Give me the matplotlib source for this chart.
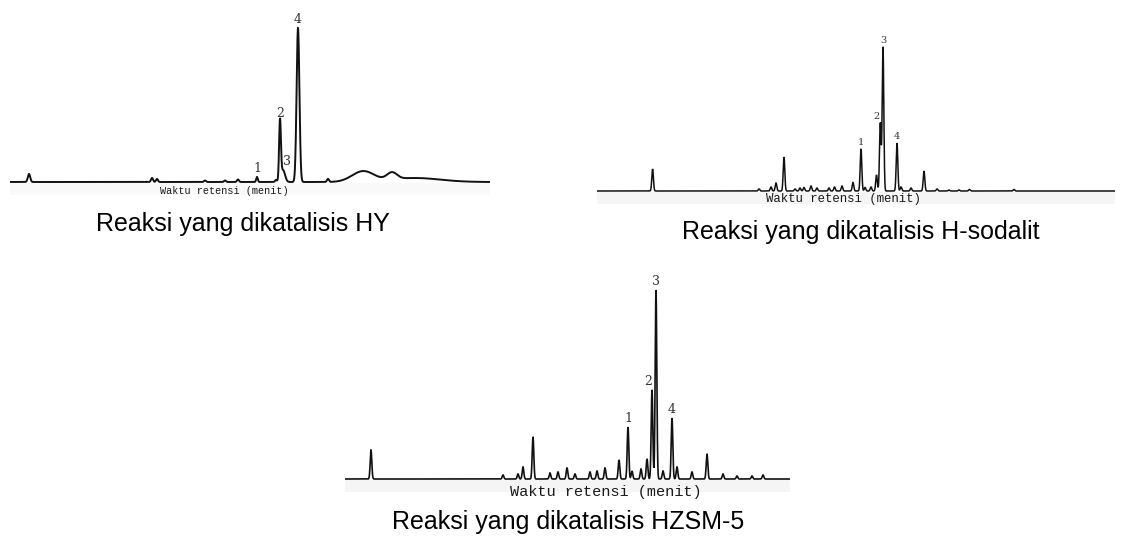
import numpy as np
import matplotlib
matplotlib.use("Agg")
import matplotlib.pyplot as plt

# ===============================
# Peak tables
# retention time (arbitrary min), height (signal units), peak width (sigma)
# ===============================
hy_rt = [1.9, 14.2, 14.7, 19.5, 21.5, 22.8, 24.7, 26.6, 27.0, 27.3, 28.8, 31.8,
         35.3, 38.2, 40.5]
hy_height = [8, 4, 3, 1.5, 1.5, 2.5, 5, 2, 60, 12, 154, 3,
             10.5, 7, 4]
hy_width = [0.12, 0.1, 0.1, 0.1, 0.1, 0.1, 0.08, 0.1, 0.09, 0.2, 0.14, 0.1,
            1.1, 0.5, 2.5]
hy_labels = ["1", "2", "3", "4"]
hy_label_rt = [24.7, 27.0, 27.3, 28.8]
hy_label_h = [5, 60, 12, 154]

hs_rt = [5.56, 16.2, 17.4, 17.9, 18.7, 19.8, 20.3, 20.7, 21.4, 22.0, 23.2, 23.75,
         24.5, 25.6, 26.4, 26.8, 27.4, 27.95, 28.33, 28.6, 30.0, 30.4, 31.4, 32.7,
         34.0, 35.2, 36.2, 37.25, 41.7]
hs_height = [22, 2, 4, 8, 34, 2, 3, 3.5, 5, 3, 3, 4,
             5, 8.5, 42, 3.5, 4, 16, 68, 144, 48, 4, 3, 20,
             2, 1, 1, 1.5, 1.5]
hs_labels = ["1", "2", "3", "4"]
hs_label_rt = [26.4, 28.33, 28.6, 30.0]
hs_label_h = [42, 68, 144, 48]

hz_rt = [2.6, 15.8, 17.3, 17.8, 18.8, 20.5, 21.3, 22.2, 23.0, 24.5, 25.2, 26.0,
         27.4, 28.3, 28.7, 29.6, 30.2, 30.7, 31.1, 31.8, 32.7, 33.2, 34.7, 36.2,
         37.8, 39.2, 40.7, 41.8]
hz_height = [29, 4, 5, 12, 42, 6, 7, 11, 5, 7, 8, 11,
             19, 52, 8, 10, 20, 89, 189, 8, 61, 12, 7, 25,
             5, 3, 3, 4]
hz_labels = ["1", "2", "3", "4"]
hz_label_rt = [28.3, 30.7, 31.1, 32.7]
hz_label_h = [52, 89, 189, 61]

captions = ["Reaksi yang dikatalisis HY",
            "Reaksi yang dikatalisis H-sodalit",
            "Reaksi yang dikatalisis HZSM-5"]
xlabel = "Waktu retensi (menit)"

W, H = 1126, 538
fig = plt.figure(figsize=(W / 100, H / 100), dpi=100)


def px_axes(left, right, top, bottom):
    return fig.add_axes([left / W, 1 - bottom / H, (right - left) / W, (bottom - top) / H])


def trace(t, rt, height, width):
    y = np.zeros_like(t)
    for c, a, s in zip(rt, height, width):
        y += a * np.exp(-0.5 * ((t - c) / s) ** 2)
    return y


def draw_panel(ax, tmax, rt, height, width, lw, band):
    t = np.linspace(0, tmax, 8000)
    y = trace(t, rt, height, width)
    # faint scan smear under the baseline
    ax.axhspan(-13, -1, color=band, zorder=0, lw=0)
    ax.plot(t, y, color="#111111", lw=lw, solid_joinstyle="miter")
    ax.set_xlim(0, tmax)
    ax.axis("off")


def label_peaks(ax, labels, lrt, lh, size, dx=None):
    for i, (lab, x, h) in enumerate(zip(labels, lrt, lh)):
        off = 0 if dx is None else dx[i]
        ax.annotate(lab, (x, h), xytext=(off, 1.5), textcoords="offset points",
                    ha="center", va="bottom", fontsize=size, color="#333333",
                    family="DejaVu Serif")


# ---- HY ----
ax1 = px_axes(10, 490, 17, 196)
draw_panel(ax1, 48.0, hy_rt, hy_height, hy_width, 1.4, "#f9f9f9")
ax1.set_ylim(-14, 165)
label_peaks(ax1, hy_labels, hy_label_rt, hy_label_h, 9, dx=[0, 0, 3, 0])
ax1.text(21.4, -9, xlabel, ha="center", va="center", fontsize=7.3,
         family="Liberation Mono", color="#1a1a1a")

# ---- H-sodalit ----
ax2 = px_axes(597, 1115, 31, 205)
draw_panel(ax2, 51.8, hs_rt, hs_height, [0.08] * len(hs_rt), 1.1, "#f5f5f5")
ax2.set_ylim(-14, 160)
label_peaks(ax2, hs_labels, hs_label_rt, hs_label_h, 7, dx=[0, -3, 0, 0])
ax2.text(24.6, -7.5, xlabel, ha="center", va="center", fontsize=8.9,
         family="Liberation Mono", color="#1a1a1a")

# ---- HZSM-5 ----
ax3 = px_axes(345, 790, 279, 493)
draw_panel(ax3, 44.5, hz_rt, hz_height, [0.08] * len(hz_rt), 1.2, "#f5f5f5")
ax3.set_ylim(-14, 200)
label_peaks(ax3, hz_labels, hz_label_rt, hz_label_h, 9, dx=[0, -3, 0, 0])
ax3.text(26.1, -13, xlabel, ha="center", va="center", fontsize=11,
         family="Liberation Mono", color="#1a1a1a")

# captions
cap_pos = [(243, 224), (861, 232), (568, 522)]
for cap, (cx, cy) in zip(captions, cap_pos):
    fig.text(cx / W, 1 - cy / H, cap, ha="center", va="center", fontsize=18,
             family="Liberation Sans", color="black")

fig.savefig("out.png", dpi=100)
